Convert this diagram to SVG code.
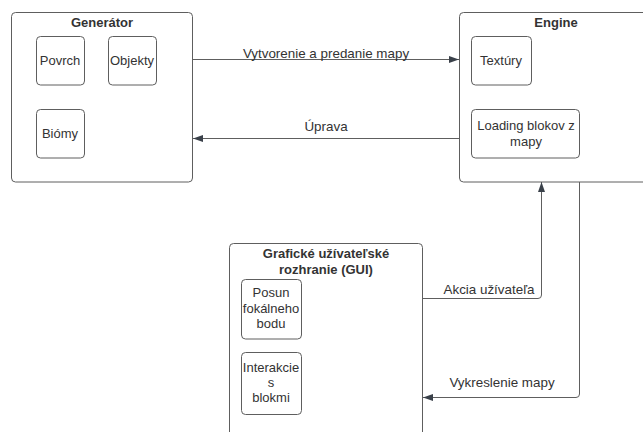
<svg xmlns="http://www.w3.org/2000/svg" width="643" height="432" viewBox="0 0 643 432">
<defs>
<marker id="ah" markerWidth="11" markerHeight="9" refX="10" refY="4.5" orient="auto" markerUnits="userSpaceOnUse">
<path d="M0,1 L10,4.5 L0,8 Z" fill="#3a414a"/>
</marker>
<style>
.box{fill:#fff;stroke:#5e5e5e;stroke-width:1}
.t{font-family:"Liberation Sans",Arial,sans-serif;font-size:13px;fill:#333;text-anchor:middle}
.l{font-size:13.4px}
.b{font-weight:bold}
.c{fill:none;stroke:#5e5e5e;stroke-width:1}
</style>
</defs>
<rect width="643" height="432" fill="#fff"/>
<g id="generator">
<rect class="box" x="11.5" y="12.5" width="181" height="169.5" rx="4"/>
<text class="t b" x="102" y="27">Generátor</text>
</g>
<g id="povrch"><rect class="box" x="36.5" y="36.5" width="48" height="48.5" rx="4"/><text class="t" x="60" y="65">Povrch</text></g>
<g id="objekty"><rect class="box" x="108.5" y="36.5" width="48" height="48.5" rx="4"/><text class="t" x="132" y="65">Objekty</text></g>
<g id="biomy"><rect class="box" x="36.5" y="109.5" width="48" height="48.5" rx="4"/><text class="t" x="60" y="138">Biómy</text></g>
<g id="engine">
<rect class="box" x="459.5" y="12.5" width="200" height="169.5" rx="4"/>
<text class="t b" x="556" y="27">Engine</text>
</g>
<g id="textury"><rect class="box" x="471.5" y="36.5" width="60" height="48.5" rx="4"/><text class="t" x="501" y="65">Textúry</text></g>
<g id="loading"><rect class="box" x="471.5" y="109.5" width="108" height="48.5" rx="4"/><text class="t" x="526" y="130">Loading blokov z</text><text class="t" x="526" y="146">mapy</text></g>
<g id="gui">
<rect class="box" x="229.5" y="243.5" width="193" height="200" rx="4"/>
<text class="t b" x="326" y="258">Grafické užívateľské</text>
<text class="t b" x="326" y="274">rozhranie (GUI)</text>
</g>
<g id="posun"><rect class="box" x="241.5" y="279.5" width="60" height="59.5" rx="4"/><text class="t" x="271" y="297">Posun</text><text class="t" x="271" y="313">fokálneho</text><text class="t" x="271" y="328">bodu</text></g>
<g id="interakcie"><rect class="box" x="241.5" y="352.5" width="60" height="62" rx="4"/><text class="t" x="271" y="372">Interakcie</text><text class="t" x="271" y="387">s</text><text class="t" x="271" y="402">blokmi</text></g>
<g id="connectors">
<path class="c" d="M193,59.5 H459" marker-end="url(#ah)"/>
<path class="c" d="M459,138.5 H193" marker-end="url(#ah)"/>
<path class="c" d="M423,298.5 H538 Q541.5,298.5 541.5,295 V182" marker-end="url(#ah)"/>
<path class="c" d="M579.5,182 V394 Q579.5,397.5 576,397.5 H423" marker-end="url(#ah)"/>
<text class="t l" x="326" y="58">Vytvorenie a predanie mapy</text>
<text class="t l" x="326" y="131">Úprava</text>
<text class="t l" x="489" y="294">Akcia užívateľa</text>
<text class="t l" x="502" y="387">Vykreslenie mapy</text>
</g>
</svg>
